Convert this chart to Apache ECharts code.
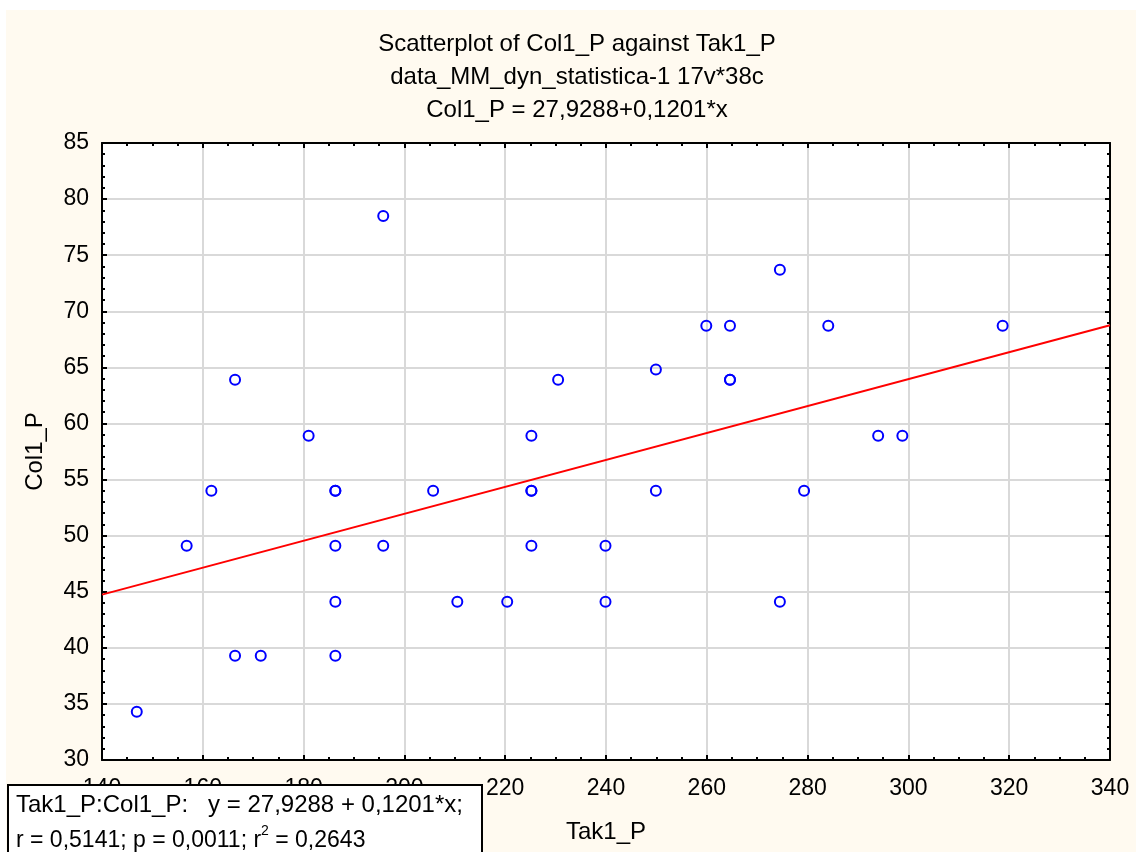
<!DOCTYPE html>
<html>
<head>
<meta charset="utf-8">
<script src="https://cdn.jsdelivr.net/npm/echarts@6/dist/echarts.min.js"></script>
<style>
html,body{margin:0;padding:0;background:#ffffff;width:1136px;height:852px;overflow:hidden;}
#c{position:absolute;left:6px;top:10px;width:1130px;height:842px;}
</style>
</head>
<body>
<div id="c"></div>
<script>
// Tak1_P (x) and Col1_P (y) values (duplicates kept)
const takValues = [146.9,156.8,161.7,166.4,166.4,171.5,181.0,186.3,186.3,186.3,186.3,186.3,195.8,195.8,205.7,210.5,220.4,225.2,225.2,225.2,225.2,230.5,239.9,239.9,249.9,249.9,259.9,264.6,264.6,264.6,274.5,274.5,279.3,284.1,294.0,298.8,318.7];
const colValues = [34.3,49.1,54.0,63.9,39.3,39.3,58.9,54.0,54.0,49.1,44.1,39.3,78.5,49.1,54.0,44.1,44.1,58.9,54.0,54.0,49.1,63.9,49.1,44.1,64.8,54.0,68.7,68.7,63.9,63.9,73.7,44.1,54.0,68.7,58.9,58.9,68.7];
// regression line end points (Col1_P = 27,9288+0,1201*x)
const fitX = [140, 340];
const fitY = [44.74, 68.76];
const xTicks = {min:140, max:340, interval:20};
const yTicks = {min:30, max:85, interval:5};
const titleLines = ['Scatterplot of Col1_P against Tak1_P','data_MM_dyn_statistica-1 17v*38c','Col1_P = 27,9288+0,1201*x'];

const FONT = 'Liberation Sans, Arial, sans-serif';
const points = takValues.map((v,i)=>[v,colValues[i]]);
const fitLine = fitX.map((v,i)=>[v,fitY[i]]);

const chart = echarts.init(document.getElementById('c'), null, {renderer:'canvas'});

function axisBase(extra){
  return Object.assign({
    type:'value',
    axisLine:{show:true,onZero:false,lineStyle:{color:'#000',width:2}},
    axisTick:{show:true,inside:true,length:5,lineStyle:{color:'#000',width:2}},
    minorTick:{show:true,length:3,lineStyle:{color:'#000',width:2}},
  }, extra);
}

chart.setOption({
  backgroundColor:'#FFFAF0',
  animation:false,
  title:{
    text: titleLines.join('\n'),
    left: 566, top: 13, textAlign:'center',
    textStyle:{fontFamily:FONT,fontSize:24,fontWeight:'normal',color:'#000',lineHeight:33}
  },
  grid:{left:96,top:133,right:26,bottom:92,show:true,backgroundColor:'#ffffff',borderWidth:0},
  xAxis:[
    axisBase({
      min:xTicks.min,max:xTicks.max,interval:xTicks.interval,position:'bottom',
      minorTick:{show:true,splitNumber:4,length:3,lineStyle:{color:'#000',width:2}},
      axisLabel:{fontFamily:FONT,fontSize:23,color:'#000',margin:17},
      splitLine:{show:true,lineStyle:{color:'#D9D9D9',width:2}},
      name:'Tak1_P',nameLocation:'middle',nameGap:60,
      nameTextStyle:{fontFamily:FONT,fontSize:24,color:'#000'}
    }),
    axisBase({
      min:xTicks.min,max:xTicks.max,interval:xTicks.interval,position:'top',
      minorTick:{show:true,splitNumber:4,length:3,lineStyle:{color:'#000',width:2}},
      axisLabel:{show:false},splitLine:{show:false}
    })
  ],
  yAxis:[
    axisBase({
      min:yTicks.min,max:yTicks.max,interval:yTicks.interval,position:'left',
      minorTick:{show:true,splitNumber:5,length:3,lineStyle:{color:'#000',width:2}},
      axisLabel:{fontFamily:FONT,fontSize:23,color:'#000',margin:13},
      splitLine:{show:true,lineStyle:{color:'#D9D9D9',width:2}},
      name:'Col1_P',nameLocation:'middle',nameGap:55,nameRotate:90,
      nameTextStyle:{fontFamily:FONT,fontSize:24,color:'#000'}
    }),
    axisBase({
      min:yTicks.min,max:yTicks.max,interval:yTicks.interval,position:'right',
      minorTick:{show:true,splitNumber:5,length:3,lineStyle:{color:'#000',width:2}},
      axisLabel:{show:false},splitLine:{show:false}
    })
  ],
  series:[
    {
      type:'line',data:fitLine,xAxisIndex:0,yAxisIndex:0,
      showSymbol:false,symbol:'none',
      lineStyle:{color:'#FF0000',width:2},z:2,silent:true
    },
    {
      type:'scatter',data:points,xAxisIndex:0,yAxisIndex:0,
      symbol:'circle',symbolSize:10,
      itemStyle:{color:'rgba(255,255,255,0)',borderColor:'#0000FF',borderWidth:2,opacity:1},
      z:3,silent:true
    }
  ],
  graphic:[
    {
      type:'rect',z:100,
      shape:{x:2,y:775,width:474,height:90},
      style:{fill:'#ffffff',stroke:'#000000',lineWidth:2}
    },
    {
      type:'text',z:101,left:10,top:783,
      style:{text:'Tak1_P:Col1_P:   y = 27,9288 + 0,1201*x;',fontFamily:FONT,fontSize:24,fill:'#000'}
    },
    {
      type:'text',z:101,left:10,top:814,
      style:{
        text:'{a|r = 0,5141; p = 0,0011; r}{s|2}{a| = 0,2643}',
        rich:{
          a:{fontFamily:FONT,fontSize:23,fill:'#000',color:'#000',lineHeight:28,verticalAlign:'bottom'},
          s:{fontFamily:FONT,fontSize:14,fill:'#000',color:'#000',lineHeight:28,verticalAlign:'top'}
        }
      }
    }
  ]
});
</script>
</body>
</html>
